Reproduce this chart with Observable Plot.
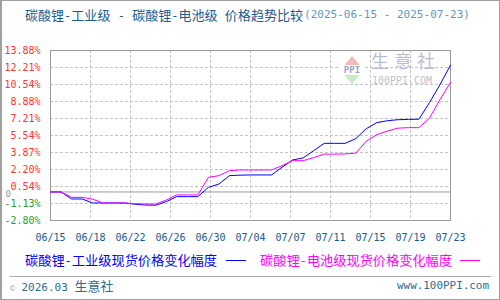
<!DOCTYPE html>
<html>
<head>
<meta charset="utf-8">
<script src="https://cdn.jsdelivr.net/npm/d3@7"></script>
<script src="https://cdn.jsdelivr.net/npm/@observablehq/plot@0.6"></script>
<style>
  html, body { margin: 0; padding: 0; background: #fff; }
  #wrap { position: relative; width: 500px; height: 300px; overflow: hidden; background: #fff; }
  #border { position: absolute; left: 0; top: 0; width: 500px; height: 300px; box-sizing: border-box; border: 1px solid #a0a0a0; border-left-width: 2px; pointer-events: none; }
  .abs { position: absolute; white-space: pre; }
  .cjk { font-family: "Noto Sans CJK SC", sans-serif; }
  .mono { font-family: "DejaVu Sans Mono", monospace; }
  .h { font-family: "DejaVu Sans Mono", monospace; font-size: 12px; }
  .fit { transform-origin: 0 50%; }
</style>
</head>
<body>
<div id="wrap">
  <div id="chart" class="abs" style="left:0;top:0"></div>
  <div class="abs cjk fit" data-w="278" style="left:25px;top:6px;font-size:13px;line-height:17px;color:#1b5b8b">碳酸锂<span class="h">-</span>工业级<span class="h"> - </span>碳酸锂<span class="h">-</span>电池级<span class="h"> </span>价格趋势比较</div>
  <div class="abs mono fit" data-w="166" style="left:304px;top:8px;font-size:11px;line-height:14px;color:#5f97c0">(2025-06-15 - 2025-07-23)</div>

  <!-- watermark -->
  <div class="abs" style="left:341px;top:56px;width:0;height:0;border-left:11px solid transparent;border-right:11px solid transparent;border-bottom:13px solid #f4baba"></div>
  <div class="abs" style="left:341px;top:71px;width:0;height:0;border-left:11px solid transparent;border-right:11px solid transparent;border-top:13px solid #c9ebc9"></div>
  <div class="abs mono" style="left:340px;top:65px;width:24px;text-align:center;font-size:9px;font-weight:bold;line-height:10px;color:#9aa3c4;background:#fff">PPI</div>
  <div class="abs cjk" style="left:371px;top:49px;font-size:18px;line-height:22px;letter-spacing:5px;color:#b8bfd8">生意社</div>
  <div class="abs mono fit" data-w="60" style="left:372px;top:75px;font-size:10px;line-height:11px;color:#c0c2cc">100PPI.COM</div>

  <!-- legend -->
  <div class="abs cjk fit" data-w="192" style="left:25px;top:252px;font-size:13px;line-height:16px;color:#0000ff">碳酸锂<span class="h">-</span>工业级现货价格变化幅度</div>
  <div class="abs" style="left:226px;top:260px;width:20px;height:1px;background:#0000ff"></div>
  <div class="abs cjk fit" data-w="192" style="left:260px;top:252px;font-size:13px;line-height:16px;color:#ff00ff">碳酸锂<span class="h">-</span>电池级现货价格变化幅度</div>
  <div class="abs" style="left:460px;top:260px;width:20px;height:1px;background:#ff00ff"></div>

  <!-- footer -->
  <div class="abs" style="left:10px;top:276px;width:481px;height:1px;background:#aaaaaa"></div>
  <div class="abs" style="left:10px;top:278px;font-size:13px;line-height:16px;color:#2f6d8f"><span class="mono" style="font-size:8px;color:#8fb0c8">©</span><span class="mono" style="font-size:11px"> 2026.03 </span><span class="cjk">生意社</span></div>
  <div class="abs mono fit" data-w="92" style="left:397px;top:279px;font-size:11px;line-height:14px;color:#2f6d8f">www.100PPI.com</div>
  <div id="border"></div>
</div>
<script>
// ---- data ----
const startDate = "2025-06-15";
const endDate = "2025-07-23";
// daily change (%) vs 2025-06-15
const industrial = [0, 0, -0.69, -0.69, -1.08, -1.08, -1.08, -1.08, -1.20, -1.28,
  -1.30, -0.95, -0.46, -0.46, -0.46, 0.45, 0.78, 1.60, 1.65, 1.67,
  1.67, 1.67, 2.43, 3.14, 3.34, 4.05, 4.77, 4.77, 4.77, 5.23,
  6.21, 6.80, 6.99, 7.09, 7.12, 7.14, 8.76, 10.53, 12.44];
const battery = [0, 0, -0.53, -0.53, -0.71, -1.08, -1.08, -1.08, -1.15, -1.18,
  -1.18, -0.80, -0.29, -0.29, -0.29, 1.43, 1.60, 2.09, 2.16, 2.16,
  2.16, 2.16, 2.58, 3.07, 3.07, 3.37, 3.71, 3.71, 3.73, 3.81,
  4.98, 5.62, 5.97, 6.26, 6.31, 6.31, 7.24, 9.06, 10.75];
const yTicks = [-2.80, -1.132, 0.536, 2.204, 3.872, 5.54, 7.208, 8.876, 10.544, 12.212, 13.88];
const xTickLabels = ["06/15", "06/18", "06/22", "06/26", "06/30", "07/04", "07/07", "07/11", "07/15", "07/19", "07/23"];

// ---- build ----
const DAY = 86400000;
const t0 = new Date(startDate + "T00:00:00Z");
const t1 = new Date(endDate + "T00:00:00Z");
const dates = industrial.map((_, i) => new Date(+t0 + i * DAY));
const rowsInd = dates.map((d, i) => ({date: d, v: industrial[i]}));
const rowsBat = dates.map((d, i) => ({date: d, v: battery[i]}));
const span = (+t1 - +t0) / (xTickLabels.length - 1);
const xTicks = xTickLabels.map((_, i) => new Date(+t0 + i * span));
const fmtY = d => d.toFixed(2) + "%";
const fmtX = d => xTickLabels[Math.round((+d - +t0) / span)];

const chart = Plot.plot({
  width: 500,
  height: 300,
  marginLeft: 50,
  marginRight: 50,
  marginTop: 50,
  marginBottom: 80,
  style: {background: "transparent", fontFamily: "DejaVu Sans Mono, monospace", fontSize: "10px"},
  x: {type: "utc", domain: [t0, t1]},
  y: {domain: [-2.80, 13.88]},
  marks: [
    Plot.gridY(yTicks, {stroke: "#c4c4c4", strokeOpacity: 1, strokeDasharray: "3,2"}),
    Plot.gridX(xTicks, {stroke: "#c4c4c4", strokeOpacity: 1, strokeDasharray: "3,2"}),
    Plot.frame({stroke: "#9a9a9a"}),
    Plot.ruleY([0], {stroke: "#9a9a9a"}),
    Plot.axisY(yTicks.filter(v => v >= 0), {tickSize: 0, tickPadding: 10, tickFormat: fmtY, fill: "#ff3333", label: null}),
    Plot.axisY(yTicks.filter(v => v < 0), {tickSize: 0, tickPadding: 10, tickFormat: fmtY, fill: "#2aa02a", label: null}),
    Plot.text([0], {y: d => d, frameAnchor: "left", dx: -45, text: () => "0", textAnchor: "start", fill: "#999999", fontSize: 9, dy: 2}),
    Plot.axisX(xTicks, {tickSize: 0, tickPadding: 13, tickFormat: fmtX, fill: "#1a5a8a", label: null}),
    Plot.line(rowsInd, {x: "date", y: "v", stroke: "#0000ff", strokeWidth: 1}),
    Plot.line(rowsBat, {x: "date", y: "v", stroke: "#ff00ff", strokeWidth: 1})
  ]
});
document.getElementById("chart").appendChild(chart);

// fit text blocks to the widths measured on the reference
document.querySelectorAll(".fit").forEach(el => {
  const target = +el.dataset.w;
  const w = el.getBoundingClientRect().width;
  if (w > 0) el.style.transform = `scaleX(${target / w})`;
});
</script>
</body>
</html>
